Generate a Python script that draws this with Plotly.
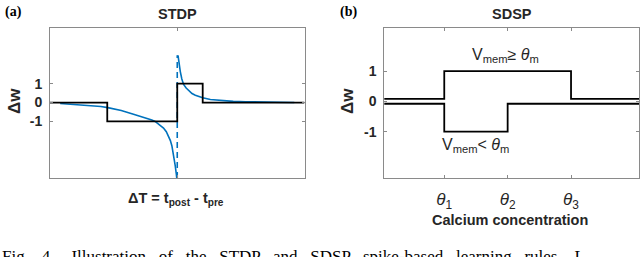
import plotly.graph_objects as go

# ---------------- data ----------------
# STDP (panel a)
stdp_step_x = [-50, -27.5, 0, 10, 50]
stdp_step_y = [0, -1, 1, 0, 0]

stdp_pre_x = [-46, -40, -35, -30, -27.3, -22, -17.2, -13, -10, -8.7, -7, -5.4,
              -4.3, -3.4, -2.7, -2.1, -1.6, -1.2, -0.8, -0.4, -0.2]
stdp_pre_y = [-0.05, -0.1, -0.15, -0.21, -0.27, -0.42, -0.62, -0.78, -0.92, -1.0,
              -1.17, -1.35, -1.55, -1.78, -2.02, -2.3, -2.65, -3.0, -3.35, -3.75, -4.0]

stdp_post_x = [0.3, 0.6, 1.2, 1.8, 2.5, 3.5, 4.5, 5.8, 7.1, 8.5, 10, 13, 15, 18,
               22, 26.8, 32, 40, 46]
stdp_post_y = [2.5, 2.1, 1.64, 1.25, 0.96, 0.77, 0.62, 0.48, 0.39, 0.31, 0.25,
               0.16, 0.13, 0.09, 0.06, 0.045, 0.03, 0.01, 0.0]

stdp_dash_x = [0, 0]
stdp_dash_y = [-4, 2.5]

stdp_yticks = [-1, 0, 1]
stdp_yticklabels = ["-1", "0", "1"]

# SDSP (panel b)
sdsp_high_x = [0, 1, 3, 4.5]
sdsp_high_y = [0.08, 1, 0.08, 0.08]
sdsp_low_x = [0, 1, 2, 4.5]
sdsp_low_y = [-0.08, -1, -0.08, -0.08]

theta_ticks = [1, 2, 3]
theta_labels = ["<i>θ</i><sub>1</sub>", "<i>θ</i><sub>2</sub>", "<i>θ</i><sub>3</sub>"]
sdsp_yticks = [-1, 0, 1]
sdsp_yticklabels = ["-1", "0", "1"]

caption_words = ["Fig.", "4.", " Illustration", "of", "the", "STDP", "and", "SDSP",
                 "spike-based", "learning", "rules.", "L"]

# ---------------- figure ----------------
W, H = 640, 257
BLUE = "#0072BD"
FRAME = "#8a8a8a"
TXT = "#262626"
FONT = "Liberation Sans"

def px_x(p):
    return p / W

def px_y(p):
    return 1 - p / H

fig = go.Figure()

fig.add_trace(go.Scatter(x=stdp_pre_x, y=stdp_pre_y, mode="lines",
                         line=dict(color=BLUE, width=1.6), xaxis="x", yaxis="y",
                         showlegend=False))
fig.add_trace(go.Scatter(x=stdp_post_x, y=stdp_post_y, mode="lines",
                         line=dict(color=BLUE, width=1.6), xaxis="x", yaxis="y",
                         showlegend=False))
fig.add_trace(go.Scatter(x=stdp_dash_x, y=stdp_dash_y, mode="lines",
                         line=dict(color=BLUE, width=1.6, dash="6px,4px"),
                         xaxis="x", yaxis="y", showlegend=False))
fig.add_trace(go.Scatter(x=stdp_step_x, y=stdp_step_y, mode="lines",
                         line=dict(color="black", width=1.8, shape="hv"),
                         xaxis="x", yaxis="y", showlegend=False))

fig.add_trace(go.Scatter(x=sdsp_high_x, y=sdsp_high_y, mode="lines",
                         line=dict(color="black", width=1.8, shape="hv"),
                         xaxis="x2", yaxis="y2", showlegend=False))
fig.add_trace(go.Scatter(x=sdsp_low_x, y=sdsp_low_y, mode="lines",
                         line=dict(color="black", width=1.8, shape="hv"),
                         xaxis="x2", yaxis="y2", showlegend=False))

ydom = [px_y(178), px_y(28)]
axis_common = dict(showline=True, linecolor=FRAME, linewidth=1, mirror="ticks",
                   ticks="inside", ticklen=3, tickcolor=FRAME, showgrid=False,
                   zeroline=False, automargin=False, fixedrange=True)

fig.update_layout(
    width=W, height=H,
    margin=dict(l=0, r=0, t=0, b=0),
    paper_bgcolor="white", plot_bgcolor="white",
    font=dict(family=FONT, color=TXT),
    xaxis=dict(domain=[px_x(50), px_x(304.5)], range=[-50, 50],
               tickvals=[0], showticklabels=False, anchor="y", **axis_common),
    yaxis=dict(domain=ydom, range=[-4.0, 3.95], tickvals=stdp_yticks,
               ticktext=[f"<b>{t}</b>" for t in stdp_yticklabels],
               tickfont=dict(size=14, family=FONT, color=TXT),
               ticklabelstandoff=4, anchor="x", **axis_common),
    xaxis2=dict(domain=[px_x(384.3), px_x(639.3)], range=[0.054, 4.077],
                tickvals=theta_ticks, ticktext=theta_labels,
                tickfont=dict(size=17, family=FONT, color=TXT),
                ticklabelstandoff=6, anchor="y2", **axis_common),
    yaxis2=dict(domain=ydom, range=[-2.53, 2.42], tickvals=sdsp_yticks,
                ticktext=[f"<b>{t}</b>" for t in sdsp_yticklabels],
                tickfont=dict(size=14, family=FONT, color=TXT),
                ticklabelstandoff=4, anchor="x2", **axis_common),
)

def ann(text, x, y, size, bold=True, family=FONT, angle=0, xanchor="center",
        yanchor="middle", color=TXT):
    fig.add_annotation(text=f"<b>{text}</b>" if bold else text,
                       x=px_x(x), y=px_y(y), xref="paper", yref="paper",
                       showarrow=False, xanchor=xanchor, yanchor=yanchor,
                       textangle=angle, font=dict(size=size, family=family, color=color))

# titles
ann("STDP", 177.5, 13.5, 14.5)
ann("SDSP", 511.5, 13.5, 14.5)
# panel letters
ann("(a)", 3, 12, 14, family="Liberation Serif", xanchor="left", color="black")
ann("(b)", 338, 12, 14, family="Liberation Serif", xanchor="left", color="black")
# y labels
ann("Δw", 15, 101, 17, angle=-90)
ann("Δw", 348, 101, 17, angle=-90)
# x labels
ann("ΔT = t<sub>post</sub> - t<sub>pre</sub>", 176, 199, 14.5)
ann("Calcium concentration", 510, 220, 14.5)
# SDSP curve labels
ann("V<sub>mem</sub>≥ <i>θ</i><sub>m</sub>", 505, 55, 16, bold=False)
ann("V<sub>mem</sub>< <i>θ</i><sub>m</sub>", 475.5, 145, 16, bold=False)
# caption (cut off at the bottom, as in the reference)
ann("   ".join(caption_words),
    0, 245, 17, bold=False, family="Liberation Serif", xanchor="left",
    yanchor="top", color="black")

fig.write_html("out.html",
               config={"displayModeBar": False, "staticPlot": True},
               post_script="document.body.style.margin='0';document.body.style.overflow='hidden';")
